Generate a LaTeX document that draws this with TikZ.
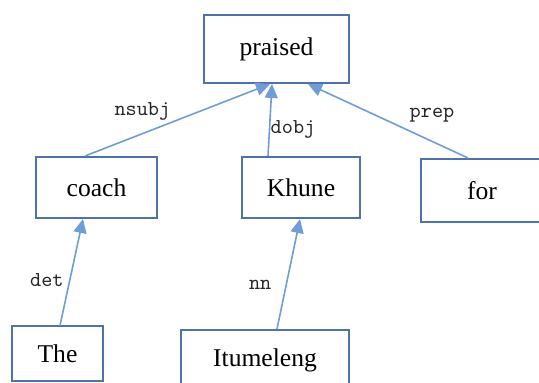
\documentclass[tikz,border=0pt]{standalone}
\usepackage{fontspec}
\setmainfont{Liberation Serif}
\usetikzlibrary{arrows.meta}
\definecolor{boxblue}{RGB}{79,114,168}
\definecolor{arrowblue}{RGB}{112,156,216}

\begin{document}
\begin{tikzpicture}[
  x=0.5pt, y=-0.5pt,
  font=\fontsize{12.8}{14}\selectfont,
  box/.style={draw=boxblue, line width=1pt, inner sep=0pt,
              minimum height=30.5pt},
  arr/.style={-{Triangle[length=7pt, width=6.5pt]}, line width=0.8pt,
              draw=arrowblue, fill=arrowblue},
  lab/.style={font=\ttfamily\fontsize{10.6}{11}\selectfont,
              inner sep=0pt, text=black!85},
]
\useasboundingbox (0,0) rectangle (539,383);
\node[box, minimum width=72.5pt, minimum height=34pt] (praised) at (276.5, 49) {praised};
\node[box, minimum width=60.5pt] (coach) at (96.5, 187.5) {coach};
\node[box, minimum width=59pt] (khune) at (301, 187.5) {Khune};
\node[box, minimum width=61pt, minimum height=31.5pt] (for) at (482, 190.5) {for};
\node[box, minimum width=45.5pt, minimum height=27.5pt] (the) at (57.5, 354) {The};
\node[box, minimum width=84pt, minimum height=30pt] (itum) at (265, 360) {Itumeleng};
\draw[arr] ([xshift=-5.75pt]coach.north) --
  node[lab, pos=0.31, yshift=11pt] {nsubj} ([xshift=-3.25pt]praised.south);
\draw[arr] ([xshift=-16.5pt]khune.north) --
  node[lab, pos=0.375, xshift=11.75pt] {dobj} ([xshift=-2.25pt]praised.south);
\draw[arr] ([xshift=-7pt]for.north) --
  node[lab, pos=0.225, yshift=13pt] {prep} ([xshift=15.75pt]praised.south);
\draw[arr] ([xshift=1.25pt]the.north) --
  node[lab, pos=0.43, xshift=-11.5pt] {det} ([xshift=-6.75pt]coach.south);
\draw[arr] ([xshift=6pt]itum.north) --
  node[lab, pos=0.4, xshift=-13pt] {nn} ([xshift=-0.5pt]khune.south);
\end{tikzpicture}
\end{document}
